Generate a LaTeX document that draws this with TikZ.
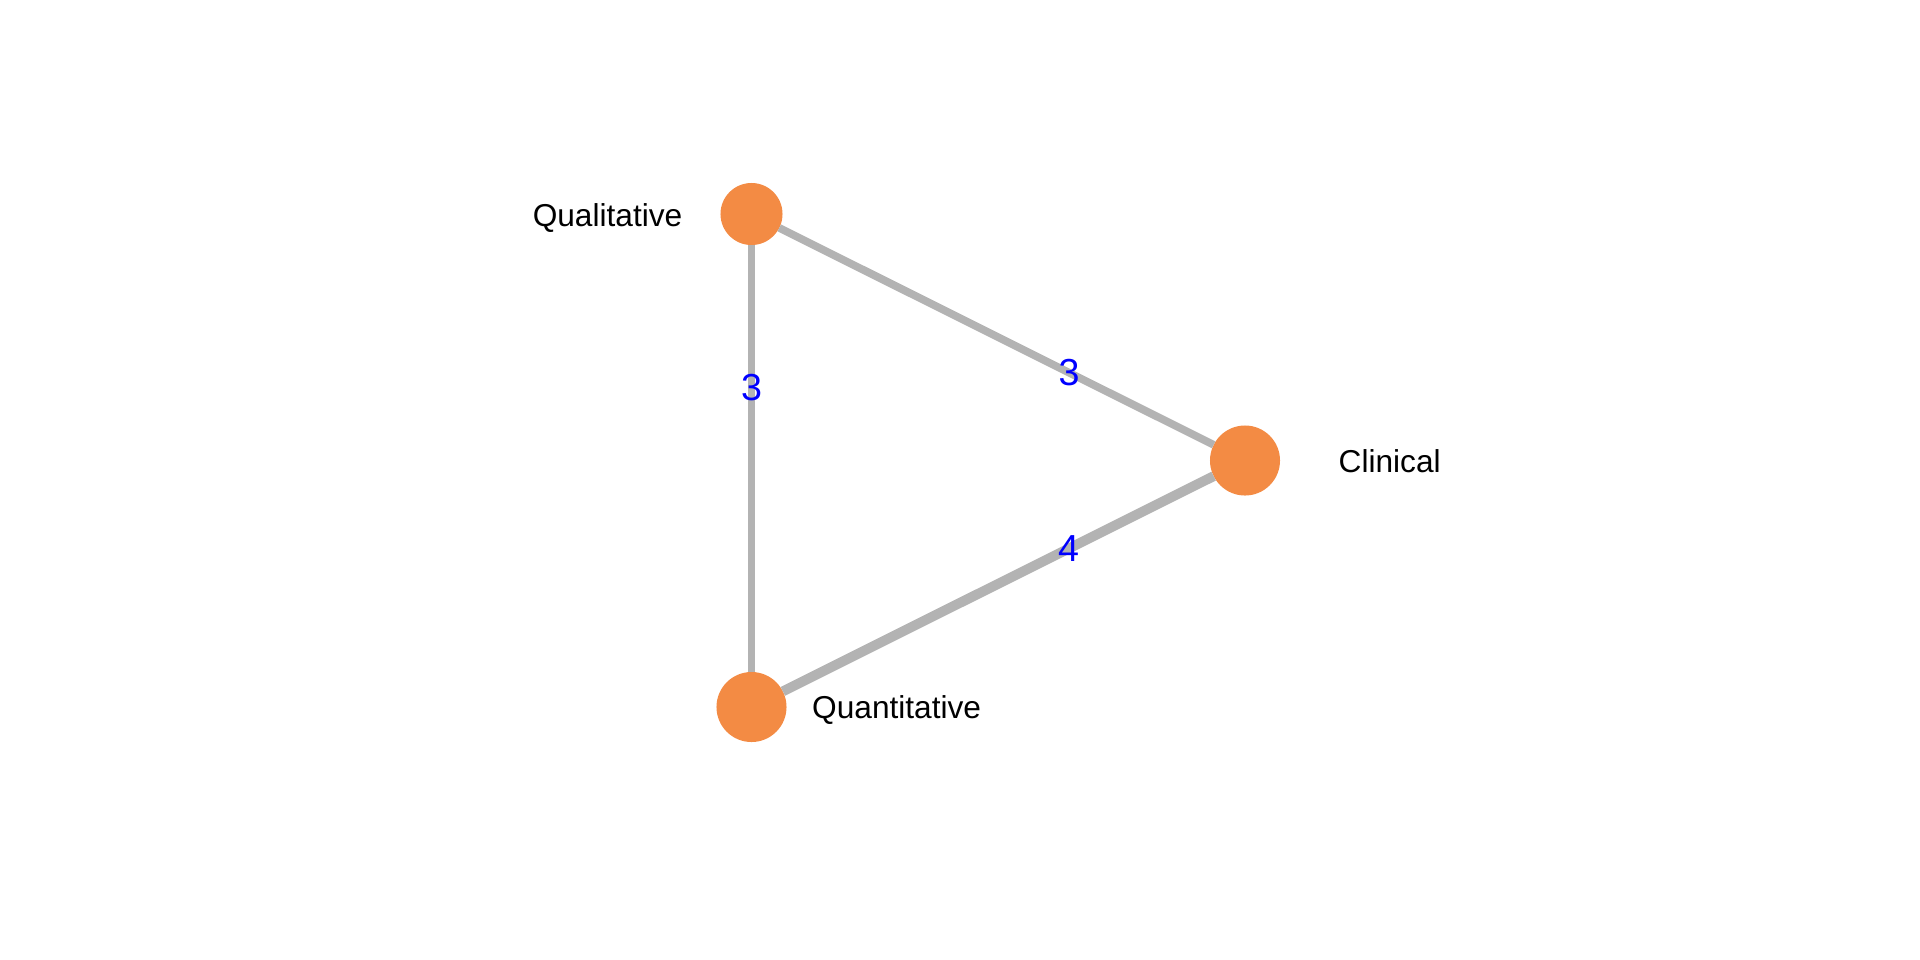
\documentclass[tikz,border=0pt]{standalone}
\usepackage{fontspec}
\setmainfont{Liberation Sans}
\definecolor{dotorange}{HTML}{F38B44}
\definecolor{edgegray}{HTML}{B3B3B3}
\tikzset{
  dot/.style={circle,fill=dotorange,inner sep=0pt,outer sep=0pt},
  edge/.style={draw=edgegray,line width=2.2pt},
  thickedge/.style={draw=edgegray,line width=2.8pt},
  namelab/.style={inner sep=0pt,font=\fontsize{9}{11}\selectfont},
  edgelab/.style={inner sep=0pt,text=blue,font=\fontsize{10.7}{12}\selectfont}
}

\begin{document}
\begin{tikzpicture}[x=0.01cm,y=-0.01cm]
\useasboundingbox (0,0) rectangle (1920,960);
% treatments
\node[dot,minimum size=0.62cm] (qual) at (751.5,214) {};
\node[dot,minimum size=0.70cm] (clin) at (1245,460.5) {};
\node[dot,minimum size=0.70cm] (quant) at (751.5,707) {};
\node[namelab,anchor=east] (quallab) at (683,218) {Qualitative};
\node[namelab,anchor=west] (clinlab) at (1338,461) {Clinical};
\node[namelab,anchor=west] (quantlab) at (811.5,710) {Quantitative};
% comparisons
\draw[edge] (qual) -- node[edgelab,pos=0.333] {3} (quant);
\draw[edge] (qual) -- node[edgelab,pos=0.667] {3} (clin);
\draw[thickedge] (quant) -- node[edgelab,pos=0.663] {4} (clin);
\end{tikzpicture}
\end{document}
